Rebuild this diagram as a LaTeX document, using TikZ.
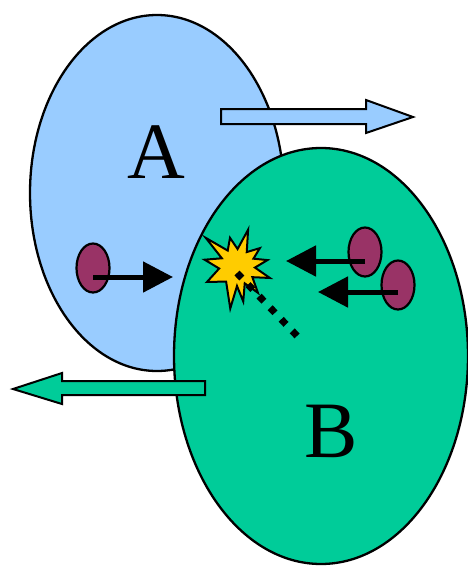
\documentclass[tikz,border=0pt]{standalone}
\usepackage{fontspec}
\setmainfont{Liberation Serif}
\usepackage{tikz}
\usetikzlibrary{shapes.geometric, arrows.meta, positioning, calc}

\definecolor{skyA}{HTML}{99CCFF}
\definecolor{seaB}{HTML}{00CC99}
\definecolor{plum}{HTML}{993366}
\definecolor{boomy}{HTML}{FFCC00}

\begin{document}
\begin{tikzpicture}[x=1pt, y=-1pt,
        cell/.style={
            ellipse, draw=black, line width=2.3pt,
            inner sep=0pt, outer sep=0pt
        },
        mol/.style={
            ellipse, draw=black, fill=plum, line width=2.2pt,
            minimum width=33pt, minimum height=49pt, inner sep=0pt
        },
        blockarrow/.style={draw=black, line width=2pt, line join=miter},
        push/.style={line width=5pt, -{Triangle[length=30pt, width=30pt]}},
        biglabel/.style={inner sep=0pt, font=\fontsize{80}{80}\selectfont}
    ]
    \useasboundingbox (0,0) rectangle (468,568);

    % cell A and its outgoing arrow
    \node[cell, fill=skyA, minimum width=254pt, minimum height=356pt] (cellA) at (157,193) {};
    \draw[blockarrow, fill=skyA] (221,109) -- (366,109) -- (366,100) -- (413,117)
        -- (366,133) -- (366,124) -- (221,124) -- cycle;

    % cell B and its outgoing arrow
    \node[cell, fill=seaB, minimum width=294pt, minimum height=416pt] (cellB) at (321,356) {};
    \draw[blockarrow, fill=seaB] (205,381) -- (62,381) -- (62,373) -- (13,389)
        -- (62,404) -- (62,395) -- (205,395) -- cycle;

    \node[biglabel] (labA) at (156,152) {A};
    \node[biglabel] (labB) at (331,431) {B};

    % molecules
    \node[mol] (molA) at (93,268) {};
    \node[mol] (molB1) at (365,252) {};
    \node[mol] (molB2) at (398,285) {};

    \coordinate (tipA) at (173,277);
    \coordinate (tipB1) at (286,261);
    \coordinate (tipB2) at (318,292);
    \draw[push] (molA.center |- tipA) -- (tipA);
    \draw[push] (molB1.center |- tipB1) -- (tipB1);
    \draw[push] (molB2.center |- tipB2) -- (tipB2);

    % collision
    \coordinate (bang) at (237,266);
    \coordinate (trail) at (300,339);
    \draw[fill=boomy, line width=2pt, line join=miter] (bang)
        +(-169:33) -- +(-153:17) -- +(-138:42) -- +(-121:18) -- +(-104:29)
        -- +(-88:17) -- +(-73:38) -- +(-55:17) -- +(-38:29) -- +(-24:18)
        -- +(-11:31) -- +(5:18) -- +(20:35) -- +(36:19) -- +(52:34)
        -- +(66:19) -- +(80:36) -- +(90:20) -- +(99:43) -- +(125:19)
        -- +(152:34) -- +(172:18) -- cycle;
    \draw[line width=7pt, dash pattern=on 7pt off 9pt] ($(bang)+(0,7)$) -- (trail);
\end{tikzpicture}
\end{document}
